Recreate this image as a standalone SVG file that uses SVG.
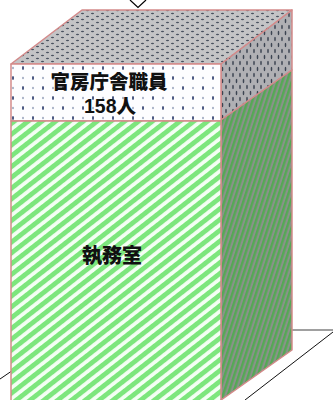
<svg xmlns="http://www.w3.org/2000/svg" width="333" height="400" viewBox="0 0 333 400">
  <style>
    .edge { stroke: #d48a8a; stroke-width: 1.5; stroke-linejoin: round; }
    .lbl { font-family: "Liberation Sans", "Noto Sans CJK JP", sans-serif; font-weight: 900; fill: #111; text-anchor: middle; }
  </style>
  <defs>
    <pattern id="topDots" width="10" height="6" patternUnits="userSpaceOnUse">
      <rect width="10" height="6" fill="#c4c4c6"/>
      <ellipse cx="2.5" cy="1.5" rx="1.6" ry="0.7" fill="#4a5260"/>
      <ellipse cx="7.5" cy="4.5" rx="1.6" ry="0.7" fill="#4a5260"/>
    </pattern>
    <pattern id="frontDots" width="20" height="20" patternUnits="userSpaceOnUse" x="1" y="3">
      <rect width="20" height="20" fill="#fdfdff"/>
      <ellipse cx="2" cy="5" rx="1" ry="2" fill="#3b4a78"/>
      <ellipse cx="12" cy="15" rx="1" ry="2" fill="#3b4a78"/>
      <ellipse cx="12" cy="5" rx="0.7" ry="1.2" fill="#7a88a8"/>
      <ellipse cx="2" cy="15" rx="0.7" ry="1.2" fill="#7a88a8"/>
    </pattern>
    <pattern id="sideDots" width="7" height="12" patternUnits="userSpaceOnUse">
      <rect width="7" height="12" fill="#b0b0b4"/>
      <ellipse cx="2" cy="3" rx="0.8" ry="2.2" fill="#3c4452"/>
      <ellipse cx="5.5" cy="9" rx="0.8" ry="2.2" fill="#3c4452"/>
    </pattern>
    <pattern id="greenStripes" width="8.5" height="20" patternUnits="userSpaceOnUse" patternTransform="rotate(52)">
      <rect width="8.5" height="20" fill="#f4fff4"/>
      <rect width="4.8" height="20" fill="#7de67d"/>
    </pattern>
    <pattern id="sideStripes" width="4.5" height="20" patternUnits="userSpaceOnUse" patternTransform="rotate(18)">
      <rect width="4.5" height="20" fill="#8a928a"/>
      <rect width="2.4" height="20" fill="#55a855"/>
    </pattern>
  </defs>

  <g id="connectors" fill="none">
    <polyline points="130,0 138,7.5 146,0" stroke="#000" stroke-width="1.2"/>
    <line x1="292" y1="330" x2="333" y2="330" stroke="#808080" stroke-width="1.5"/>
    <line x1="333" y1="332" x2="245" y2="400" stroke="#111" stroke-width="1"/>
    <line x1="0" y1="379" x2="11" y2="371.5" stroke="#111" stroke-width="1"/>
  </g>

  <g id="node-top">
    <polygon class="edge" points="11,64 82,10 292,10 221,64" fill="url(#topDots)"/>
  </g>
  <g id="node-side-upper">
    <polygon class="edge" points="221,64 292,10 292,70 221,120" fill="url(#sideDots)"/>
  </g>
  <g id="node-side-lower">
    <polygon class="edge" points="221,120 292,70 292,350 221,400" fill="url(#sideStripes)"/>
  </g>
  <g id="node-staff">
    <rect class="edge" x="11" y="64" width="210" height="57" fill="url(#frontDots)"/>
    <text class="lbl" x="109" y="89" font-size="19.5">官房庁舎職員</text>
    <text class="lbl" x="110" y="113" font-size="19.5">158人</text>
  </g>
  <g id="node-office">
    <rect class="edge" x="11" y="121" width="210" height="282" fill="url(#greenStripes)"/>
    <text class="lbl" x="112" y="263" font-size="20">執務室</text>
  </g>
</svg>
